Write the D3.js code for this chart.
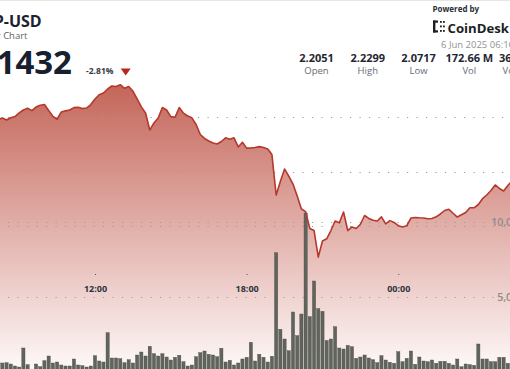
<!DOCTYPE html>
<html><head><meta charset="utf-8">
<script src="https://cdn.jsdelivr.net/npm/d3@7"></script>
<style>
html,body{margin:0;padding:0;background:#fff;overflow:hidden}
svg{display:block;font-family:"Open Sans","Noto Sans",sans-serif}
</style></head>
<body><svg id="c" width="510" height="369"></svg>
<script>
// ---- data (10-minute samples, first sample 2025-06-05 08:10 UTC) ----
const startTime = "2025-06-05T08:10";
const stepMinutes = 10;
const prices = [2.1980, 2.1994, 2.1975, 2.1996, 2.2007, 2.2041, 2.2067, 2.2083, 2.2061, 2.2094,
 2.2111, 2.2117, 2.2062, 2.2009, 2.1982, 2.2049, 2.2059, 2.2067, 2.2089, 2.2092,
 2.2081, 2.2085, 2.2117, 2.2168, 2.2207, 2.2223, 2.2260, 2.2287, 2.2283, 2.2299,
 2.2266, 2.2283, 2.2241, 2.2168, 2.2096, 2.2039, 2.1883, 2.1948, 2.1994, 2.2090,
 2.2067, 2.2006, 2.2000, 2.2090, 2.2038, 2.2012, 2.1995, 2.1934, 2.1842, 2.1806,
 2.1783, 2.1764, 2.1755, 2.1778, 2.1812, 2.1799, 2.1812, 2.1728, 2.1771, 2.1717,
 2.1718, 2.1723, 2.1731, 2.1723, 2.1709, 2.1659, 2.1287, 2.1411, 2.1526, 2.1461,
 2.1388, 2.1278, 2.1159, 2.1135, 2.0980, 2.0961, 2.0717, 2.0865, 2.0885, 2.0961,
 2.1049, 2.1032, 2.1131, 2.0961, 2.0994, 2.0980, 2.1019, 2.1099, 2.1072, 2.1055,
 2.1049, 2.1087, 2.1023, 2.1052, 2.1035, 2.1006, 2.0993, 2.1005, 2.1076, 2.1081,
 2.1078, 2.1076, 2.1069, 2.1072, 2.1087, 2.1113, 2.1145, 2.1156, 2.1120, 2.1085,
 2.1106, 2.1127, 2.1170, 2.1170, 2.1200, 2.1253, 2.1287, 2.1328, 2.1379, 2.1347,
 2.1324, 2.1374, 2.1416];
const volumes = [620, 600, 620, 533, 400, 333, 1600, 487, 100, 533,
 353, 753, 1067, 600, 667, 467, 400, 400, 867, 467,
 420, 333, 400, 1087, 733, 667, 2620, 933, 933, 887,
 620, 820, 600, 1133, 1333, 1067, 1713, 1220, 1067, 1220,
 1000, 800, 980, 1113, 687, 400, 467, 1020, 1287, 1400,
 1180, 1133, 1020, 1580, 667, 780, 467, 600, 867, 980,
 1980, 733, 1180, 980, 667, 1047, 7953, 2847, 2200, 1420,
 4000, 2420, 3867, 10600, 3687, 6067, 4220, 4047, 2100, 2200,
 3020, 1600, 1533, 1780, 1687, 913, 1000, 1133, 933, 820,
 620, 1087, 800, 647, 580, 1353, 687, 913, 1400, 513,
 1000, 733, 687, 800, 580, 713, 713, 580, 467, 867,
 353, 533, 487, 447, 1867, 867, 867, 687, 687, 980,
 980, 580];
const priceGrid = [2.10, 2.15, 2.20];
const volumeGrid = [5000, 10000];
const volumeGridLabels = ["5,000", "10,000"];
const timeTicks = ["2025-06-05T12:00", "2025-06-05T18:00", "2025-06-06T00:00"];
const title = "XRP-USD", subtitle = "24 Hour Chart";
const lastPrice = "2.1432", change = "-2.81%";
const statValues = ["2.2051", "2.2299", "2.0717", "172.66 M", "369.52 M"];
const statLabels = ["Open", "High", "Low", "Vol", "Vol (USD)"];
const stamp = "6 Jun 2025 06:16 UTC";

// ---- setup ----
const parseT = d3.utcParse("%Y-%m-%dT%H:%M");
const t0 = parseT(startTime);
const tAt = k => new Date(+t0 + k * stepMinutes * 60000);
const priceData = prices.map((p, k) => ({t: tAt(k), p}));
const volData = volumes.map((v, k) => ({t: tAt(k), v}));

const svg = d3.select("#c");
const x = d3.scaleUtc().domain([parseT("2025-06-05T12:00"), parseT("2025-06-06T00:00")]).range([95, 398.3]);
const yP = d3.scaleLinear().domain([2.10, 2.20]).range([226.3, 117.3]);
const yV = d3.scaleLinear().domain([0, 10000]).range([372, 222]);

// top border
svg.append("line").attr("x1",0).attr("x2",510).attr("y1",0.5).attr("y2",0.5).attr("stroke","#e6e6e6");

// gradient
const defs = svg.append("defs");
const grad = defs.append("linearGradient").attr("id","g").attr("gradientUnits","userSpaceOnUse")
  .attr("x1",0).attr("y1",85).attr("x2",0).attr("y2",372);
grad.append("stop").attr("offset",0).attr("stop-color","#c4665a");
grad.append("stop").attr("offset",0.5).attr("stop-color","#e2b0aa");
grad.append("stop").attr("offset",1).attr("stop-color","#fefafa");

// area
svg.append("path").datum(priceData)
  .attr("d", d3.area().x(d=>x(d.t)).y0(yV(0)).y1(d=>yP(d.p)))
  .attr("fill","url(#g)");

// grid lines
const gridG = svg.append("g").attr("stroke","#9c9c9c").attr("stroke-width",1).attr("stroke-dasharray","1.2 8.3");
gridG.selectAll("line.p").data(priceGrid).join("line")
  .attr("x1",8).attr("x2",520).attr("y1",d=>Math.round(yP(d))+0.5).attr("y2",d=>Math.round(yP(d))+0.5);
gridG.selectAll("line.v").data(volumeGrid).join("line")
  .attr("x1",8).attr("x2",520).attr("y1",d=>Math.round(yV(d))+0.5).attr("y2",d=>Math.round(yV(d))+0.5);

// volume bars
const bw = 3.2;
svg.append("g").selectAll("rect").data(volData).join("rect")
  .attr("x", d=>x(d.t)-bw/2).attr("width", bw)
  .attr("y", d=>yV(d.v)).attr("height", d=>yV(0)-yV(d.v))
  .attr("fill","#60645c").attr("stroke","#4a4e47").attr("stroke-width",0.4);

// price line
svg.append("path").datum(priceData)
  .attr("d", d3.line().x(d=>x(d.t)).y(d=>yP(d.p)))
  .attr("fill","none").attr("stroke","#b5382b").attr("stroke-width",1.6).attr("stroke-linejoin","round");

// volume axis labels
svg.append("g").selectAll("text").data(volumeGrid).join("text")
  .attr("x",524).attr("y",d=>yV(d)).attr("dy","0.36em").attr("text-anchor","end")
  .attr("font-size",10.5).attr("font-weight",600).attr("fill","#8c8c8c")
  .text((d,i)=>volumeGridLabels[i]);

// time axis
const ticks = timeTicks.map(parseT);
const ax = svg.append("g").attr("transform","translate(0,274)")
  .call(d3.axisBottom(x).tickValues(ticks).tickSize(1).tickPadding(11).tickFormat(d3.utcFormat("%H:%M")));
ax.select(".domain").remove();
ax.selectAll("line").attr("stroke","#555");
ax.selectAll("text").attr("font-size",9).attr("font-weight",700).attr("fill","#2b3441")
  .attr("font-family","'Open Sans',sans-serif");

// header left
svg.append("text").attr("x",41.7).attr("y",27.3).attr("text-anchor","end")
  .attr("font-size",16).attr("font-weight",700).attr("fill","#1a2232").text(title);
svg.append("text").attr("x",27.5).attr("y",39).attr("text-anchor","end")
  .attr("font-size",9.5).attr("fill","#5a5f66").text(subtitle);
svg.append("text").attr("x",72).attr("y",74).attr("text-anchor","end")
  .attr("font-size",33).attr("font-weight",700).attr("fill","#17202e").text(lastPrice);
svg.append("text").attr("x",86).attr("y",74)
  .attr("font-size",8.5).attr("font-weight",700).attr("fill","#333a44").text(change);
svg.append("path").attr("d","M120.7,68.5 L130.7,68.5 L125.7,75.5 Z").attr("fill","#b5281c");

// header right
svg.append("text").attr("x",432.5).attr("y",12.3)
  .attr("font-size",8).attr("font-weight",700).attr("fill","#2a2f36").text("Powered by");
const logo = svg.append("g").attr("fill","#1c1f24");
logo.append("rect").attr("x",433).attr("y",20.5).attr("width",2.4).attr("height",12);
logo.append("rect").attr("x",433).attr("y",20.5).attr("width",5).attr("height",2.2);
logo.append("rect").attr("x",433).attr("y",30.3).attr("width",5).attr("height",2.2);
[[440,21],[443,21],[440,25.5],[443,25.5],[440,30],[443,30]].forEach(([a,b])=>
  logo.append("rect").attr("x",a).attr("y",b).attr("width",1.8).attr("height",1.8));
svg.append("text").attr("x",447.5).attr("y",32.5)
  .attr("font-size",13.2).attr("font-weight",700).attr("fill","#1c1f24").text("CoinDesk Indices");
svg.append("text").attr("x",441).attr("y",48)
  .attr("font-size",9.5).attr("fill","#8f9398").text(stamp);

const statX = [316.5, 367.8, 418.5, 469.3, 523];
const st = svg.append("g").attr("text-anchor","middle");
st.selectAll("text.v").data(statValues).join("text")
  .attr("x",(d,i)=>statX[i]).attr("y",61.7)
  .attr("font-size",11).attr("font-weight",700).attr("fill","#1f2733").text(d=>d);
st.selectAll("text.l").data(statLabels).join("text")
  .attr("x",(d,i)=>statX[i]).attr("y",73.5)
  .attr("font-size",9.5).attr("fill","#666b72").text(d=>d);
</script></body></html>
